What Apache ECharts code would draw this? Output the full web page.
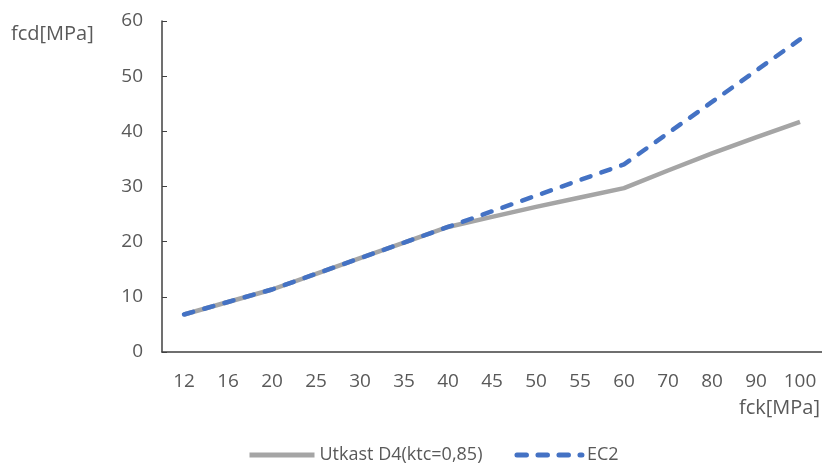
<!DOCTYPE html>
<html>
<head>
<meta charset="utf-8">
<script src="https://cdn.jsdelivr.net/npm/echarts@6/dist/echarts.min.js"></script>
<style>html,body{margin:0;padding:0;background:#fff;}#c{width:822px;height:466px;}</style>
</head>
<body>
<div id="c"></div>
<script>
const categories = ['12','16','20','25','30','35','40','45','50','55','60','70','80','90','100'];
const utkast = [6.8, 9.07, 11.33, 14.17, 17.0, 19.83, 22.67, 24.5, 26.3, 28.0, 29.7, 32.9, 36.0, 38.9, 41.7];
const ec2 = [6.8, 9.07, 11.33, 14.17, 17.0, 19.83, 22.67, 25.5, 28.33, 31.17, 34.0, 39.67, 45.33, 51.0, 56.67];
const seriesNames = ['Utkast D4(ktc=0,85)', 'EC2'];
const yTicks = {min: 0, max: 60, interval: 10};

const font = '"Open Sans", "Liberation Sans", sans-serif';
const chart = echarts.init(document.getElementById('c'));
chart.setOption({
  animation: false,
  grid: {left: 162, right: -4, top: 21, bottom: 114},
  xAxis: {
    type: 'category', data: categories, boundaryGap: true,
    axisLine: {lineStyle: {color: '#404040', width: 1.5}},
    axisTick: {show: false},
    axisLabel: {color: '#595959', fontSize: 19, fontFamily: font, margin: 20, interval: 0}
  },
  yAxis: {
    type: 'value', min: yTicks.min, max: yTicks.max, interval: yTicks.interval,
    axisLine: {show: true, lineStyle: {color: '#404040', width: 1.5}},
    axisTick: {show: true, inside: true, length: 5, lineStyle: {color: '#404040'}},
    splitLine: {show: false},
    axisLabel: {color: '#595959', fontSize: 19, fontFamily: font, margin: 19}
  },
  legend: {
    top: 446, left: 247, padding: 0, itemWidth: 65, itemHeight: 20, itemGap: 32,
    textStyle: {color: '#595959', fontSize: 18, fontFamily: font},
    itemStyle: {color: 'rgba(0,0,0,0)', borderWidth: 0},
    lineStyle: {width: 5},
    data: seriesNames
  },
  graphic: [
    {type: 'text', left: 11, top: 24, style: {text: 'fcd[MPa]', fill: '#595959', font: '20px ' + font}},
    {type: 'text', right: 2, top: 398, style: {text: 'fck[MPa]', fill: '#595959', font: '20px ' + font}}
  ],
  series: [
    {name: seriesNames[0], type: 'line', data: utkast, symbol: 'none',
     lineStyle: {color: '#A5A5A5', width: 4.5}, itemStyle: {color: '#A5A5A5'}, z: 2},
    {name: seriesNames[1], type: 'line', data: ec2, symbol: 'none',
     lineStyle: {color: '#4472C4', width: 4.5, type: [9.5, 11.5], cap: 'round'}, itemStyle: {color: '#4472C4'}, z: 3}
  ]
});
</script>
</body>
</html>
